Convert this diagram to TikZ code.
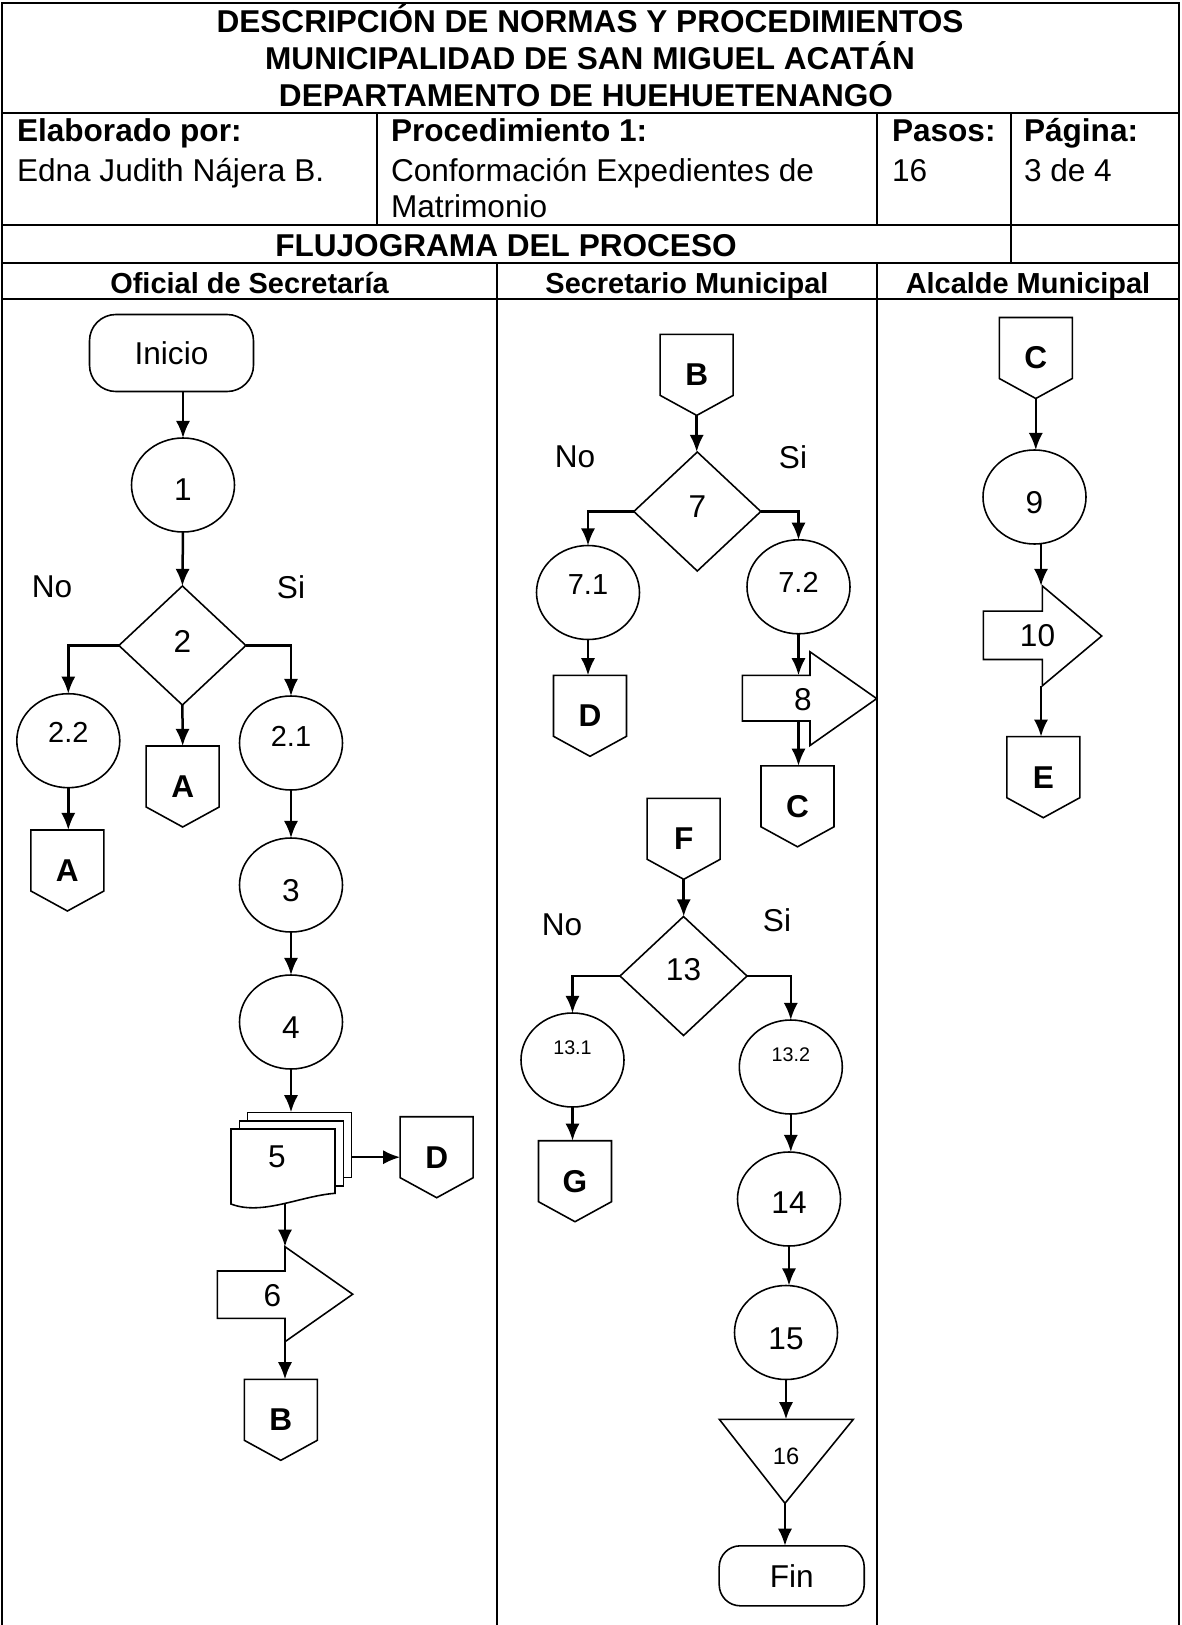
\documentclass[tikz,border=0pt]{standalone}
\usepackage{fontspec}
\setmainfont{Liberation Sans}
\usetikzlibrary{shapes.geometric,arrows.meta}

\newcommand\bodysize{\fontsize{12}{14}\selectfont}
% shift a label up or down while keeping its natural box for centring
\newcommand\lift[2]{\raisebox{#1}[\height][\depth]{#2}}
% off-page connector: name, centre x, top y, letter
\newcommand\offpage[4]{%
  \node[conn] (#1) at (#2,#3+40.5) {#4};
  \draw[outline] (#1.north west) -- (#1.north east)
    -- ([yshift=7.6pt]#1.south east) -- (#1.south)
    -- ([yshift=7.6pt]#1.south west) -- cycle;}

\begin{document}
\begin{tikzpicture}[x=0.38pt, y=-0.38pt,
  every node/.style={inner sep=0pt, outer sep=0pt, font=\bodysize},
  grid/.style={line width=1pt},
  outline/.style={line width=0.6pt},
  arr/.style={line width=0.95pt, -{Latex[length=6.5pt,width=5.4pt]}},
  stepoval/.style={ellipse, draw, outline, minimum width=103*0.38pt, minimum height=94*0.38pt},
  choice/.style={diamond, draw, outline, minimum width=127*0.38pt, minimum height=119*0.38pt},
  terminal/.style={rectangle, draw, outline},
  conn/.style={rectangle, minimum width=73*0.38pt, minimum height=81*0.38pt, font=\bodysize\bfseries},
  head/.style={font=\bodysize\bfseries},
  lanehead/.style={font=\fontsize{11}{13}\selectfont\bfseries},
]
\fill[white] (0,0) rectangle (1181,1625);
\useasboundingbox (0,0) rectangle (1181,1625);

% ---------- form grid ----------
\draw[grid] (2,1625) -- (2,3) -- (1179,3) -- (1179,1625);
\foreach \yy in {113,225,263,299} \draw[grid] (2,\yy) -- (1179,\yy);
\draw[grid] (377,113) -- (377,225);
\draw[grid] (877,113) -- (877,225);
\draw[grid] (1011,113) -- (1011,263);
\draw[grid] (497,263) -- (497,1625);
\draw[grid] (877,263) -- (877,1625);

% ---------- header texts ----------
\node[head, anchor=base] (title1) at (590,33) {DESCRIPCIÓN DE NORMAS Y PROCEDIMIENTOS};
\node[head, anchor=base] (title2) at (590,70) {MUNICIPALIDAD DE SAN MIGUEL ACATÁN};
\node[head, anchor=base] (title3) at (586,107) {DEPARTAMENTO DE HUEHUETENANGO};
\node[head, anchor=base west] (lblauthor) at (17,142) {Elaborado por:};
\node[anchor=base west] (author) at (17,182) {Edna Judith Nájera B.};
\node[head, anchor=base west] (lblproc) at (391,142) {Procedimiento 1:};
\node[anchor=base west] (proc1) at (391,182) {Conformación Expedientes de};
\node[anchor=base west] (proc2) at (391,217) {Matrimonio};
\node[head, anchor=base west] (lblsteps) at (892,142) {Pasos:};
\node[anchor=base west] (steps) at (892,182) {16};
\node[head, anchor=base west] (lblpage) at (1024,142) {Página:};
\node[anchor=base west] (page) at (1024,182) {3 de 4};
\node[head, anchor=base] (flowtitle) at (506,256.5) {FLUJOGRAMA DEL PROCESO};
\node[lanehead, anchor=base] (lane1) at (249.5,293) {Oficial de Secretaría};
\node[lanehead, anchor=base] (lane2) at (687,293) {Secretario Municipal};
\node[lanehead, anchor=base] (lane3) at (1028,293) {Alcalde Municipal};

% ---------- lane 1: Oficial de Secretaria ----------
\node[terminal, rounded corners=10pt, minimum width=164*0.38pt, minimum height=77*0.38pt] (inicio) at (171.5,353) {Inicio};
\node[stepoval] (c1) at (183,485) {\lift{-1.9pt}{1}};
\node[choice] (d2) at (182.4,645.5) {\lift{1.7pt}{2}};
\node (no2) at (52,587) {No};
\node (si2) at (291,587) {Si};
\node[stepoval] (c22) at (68.3,740.7) {\lift{3pt}{\fontsize{11}{13}\selectfont 2.2}};
\node[stepoval] (c21) at (291,743) {\lift{2.7pt}{\fontsize{11}{13}\selectfont 2.1}};
\offpage{offAm}{182.7}{746}{A}
\offpage{offAl}{67.4}{830}{A}
\node[stepoval] (c3) at (291,885) {\lift{-2.3pt}{3}};
\node[stepoval] (c4) at (291,1022) {\lift{-2.3pt}{4}};
% stacked documents, step 5
\node[draw, outline, fill=white, minimum width=104*0.38pt, minimum height=65*0.38pt] (docback) at (299.7,1144.8) {};
\node[draw, outline, fill=white, minimum width=104*0.38pt, minimum height=65*0.38pt] (docmid) at (291.3,1153.2) {};
\draw[outline, fill=white] (231,1129) -- (335,1129) -- (335,1193.3)
  .. controls (300,1196) and (262,1216) .. (231,1204) -- cycle;
\node (doc5) at (277,1157) {5};
\coordinate (doc5foot) at (285,1203.5);
\offpage{offD1}{436.7}{1116.7}{D}
% step 6
\draw[outline] (217.3,1271) -- (285,1271) -- (285,1246.7) -- (352.7,1294.2)
  -- (285,1341.7) -- (285,1318.3) -- (217.3,1318.3) -- cycle;
\node (s6) at (272.5,1296) {6};
\coordinate (s6top) at (285,1246.7);
\coordinate (s6foot) at (285,1341.7);
\offpage{offB1}{280.8}{1379.3}{B}

\draw[arr] (inicio.south -| c1.north) -- (c1.north);
\draw[arr] (c1.south) -- (d2.north);
\draw[arr] (d2.west) -| (c22.north);
\draw[arr] (d2.east) -| (c21.north);
\draw[arr] (d2.south) -- (offAm.north);
\draw[arr] (c22.south) -- (c22.south |- offAl.north);
\draw[arr] (c21.south) -- (c3.north);
\draw[arr] (c3.south) -- (c4.north);
\draw[arr] (c4.south) -- (c4.south |- docback.north);
\draw[arr] (docback.east |- offD1.west) -- (offD1.west);
\draw[arr] (doc5foot) -- (s6top);
\draw[arr] (s6foot) -- (s6foot |- offB1.north);

% ---------- lane 2: Secretario Municipal ----------
\offpage{offB2}{696.7}{334.4}{B}
\node[choice] (d7) at (697.3,511.5) {\lift{1.7pt}{7}};
\node (no7) at (575,457) {No};
\node (si7) at (793,457) {Si};
\node[stepoval] (c71) at (588,592.5) {\lift{3pt}{\fontsize{11}{13}\selectfont 7.1}};
\node[stepoval] (c72) at (798.5,586.8) {\lift{1.5pt}{\fontsize{11}{13}\selectfont 7.2}};
\offpage{offD2}{590}{675.3}{D}
\draw[outline] (742.3,675.3) -- (810,675.3) -- (810,651.8) -- (876.7,698.6)
  -- (810,745.5) -- (810,721) -- (742.3,721) -- cycle;
\node (s8) at (803,700) {8};
\coordinate (s8top) at (798.5,675.3);
\coordinate (s8foot) at (798.5,721);
\offpage{offC2}{797.5}{765.8}{C}
\offpage{offF}{683.7}{798.3}{F}
\node[choice] (d13) at (683.5,976) {\lift{2.3pt}{13}};
\node (no13) at (562,925) {No};
\node (si13) at (777,920) {Si};
\node[stepoval] (c131) at (572.5,1060) {\lift{4.6pt}{\fontsize{7.5}{9}\selectfont 13.1}};
\node[stepoval] (c132) at (790.8,1067) {\lift{4.6pt}{\fontsize{7.5}{9}\selectfont 13.2}};
\offpage{offG}{575}{1140.7}{G}
\node[stepoval] (c14) at (789,1199) {\lift{-1.5pt}{14}};
\node[stepoval] (c15) at (786,1332.5) {\lift{-2.3pt}{15}};
\draw[outline] (719.3,1419.3) -- (853.3,1419.3) -- (785,1503.3) -- cycle;
\node (t16) at (786,1456.7) {\fontsize{9}{11}\selectfont 16};
\coordinate (t16top) at (786,1419.3);
\coordinate (t16foot) at (785,1503.3);
\node[terminal, rounded corners=8pt, minimum width=145*0.38pt, minimum height=60*0.38pt] (fin) at (791.7,1575.8) {Fin};

\draw[arr] (offB2.south) -- (offB2.south |- d7.north);
\draw[arr] (d7.west) -| (c71.north);
\draw[arr] (d7.east) -| (c72.north);
\draw[arr] (c71.south) -- (c71.south |- offD2.north);
\draw[arr] (c72.south) -- (s8top);
\draw[arr] (s8foot) -- (s8foot |- offC2.north);
\draw[arr] (offF.south) -- (offF.south |- d13.north);
\draw[arr] (d13.west) -| (c131.north);
\draw[arr] (d13.east) -| (c132.north);
\draw[arr] (c131.south) -- (c131.south |- offG.north);
\draw[arr] (c132.south) -- (c132.south |- c14.north);
\draw[arr] (c14.south) -- (c14.south |- c15.north);
\draw[arr] (c15.south) -- (c15.south |- t16top);
\draw[arr] (t16foot) -- (t16foot |- fin.north);

% ---------- lane 3: Alcalde Municipal ----------
\offpage{offC3}{1035.8}{317.5}{C}
\node[stepoval] (c9) at (1034.5,497) {\lift{-2.3pt}{9}};
\draw[outline] (983.3,611.1) -- (1042.3,611.1) -- (1042.3,585.9) -- (1101.7,636)
  -- (1042.3,685.8) -- (1042.3,659.5) -- (983.3,659.5) -- cycle;
\node (s10) at (1037.5,636) {10};
\coordinate (s10top) at (1041,585.9);
\coordinate (s10foot) at (1041,685.8);
\offpage{offE}{1043.3}{736.7}{E}

\draw[arr] (offC3.south) -- (offC3.south |- c9.north);
\draw[arr] (c9.south -| s10top) -- (s10top);
\draw[arr] (s10foot) -- (s10foot |- offE.north);
\end{tikzpicture}
\end{document}
